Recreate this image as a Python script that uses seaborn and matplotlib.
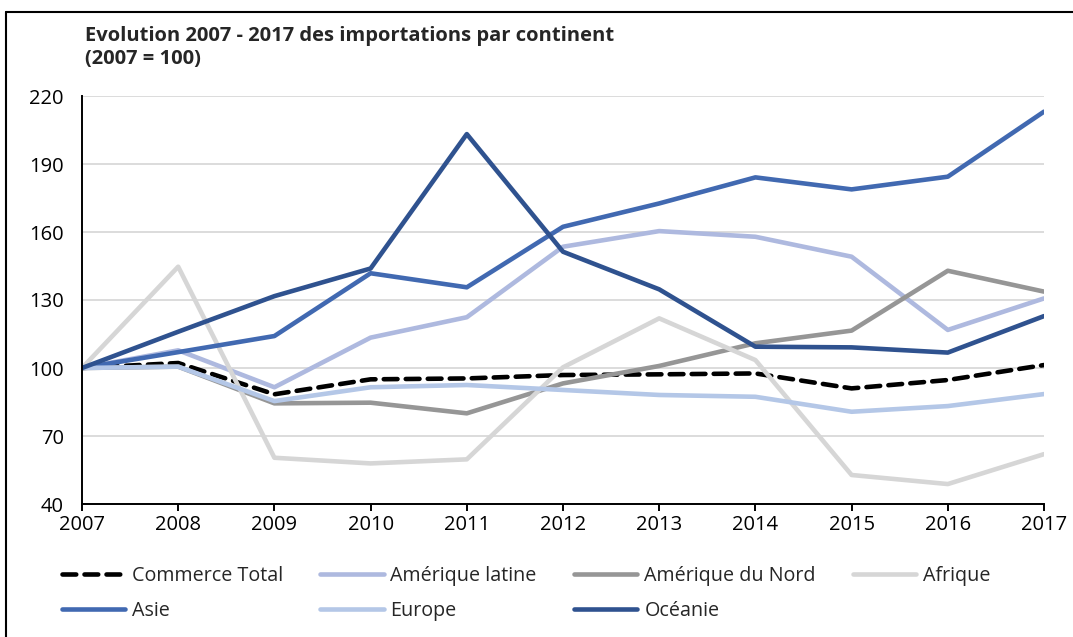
import matplotlib
matplotlib.use('Agg')
import matplotlib.pyplot as plt
import seaborn as sns
import numpy as np
import pandas as pd
from matplotlib.lines import Line2D

sns.set_style('white')
plt.rcParams['font.family'] = ['Open Sans', 'DejaVu Sans']

years = list(range(2007, 2018))

commerce_total = [100, 102.2, 88.4, 95.0, 95.4, 96.9, 97.2, 97.6, 91.0, 94.7, 101.3]
amerique_latine = [100, 107.8, 91.5, 113.4, 122.4, 153.5, 160.4, 157.9, 149.1, 116.8, 130.7]
amerique_nord = [100, 100.6, 84.4, 84.7, 80.0, 93.2, 100.9, 110.9, 116.5, 142.9, 133.7]
afrique = [100, 144.7, 60.4, 57.9, 59.7, 100.3, 121.9, 103.5, 52.8, 48.8, 62.0]
asie = [100, 107.0, 114.1, 141.8, 135.6, 162.3, 172.6, 184.1, 178.8, 184.4, 213.1]
europe = [100, 100.6, 85.4, 91.5, 92.5, 90.3, 88.1, 87.3, 80.7, 83.2, 88.5]
oceanie = [100, 116.0, 131.7, 143.9, 203.2, 151.3, 134.7, 109.4, 109.1, 106.8, 122.9]

series = [
    ('Commerce Total', commerce_total, '#000000'),
    ('Amérique latine', amerique_latine, '#AEB9DF'),
    ('Amérique du Nord', amerique_nord, '#969696'),
    ('Afrique', afrique, '#D6D6D6'),
    ('Asie', asie, '#4169B1'),
    ('Europe', europe, '#B4C7E7'),
    ('Océanie', oceanie, '#2F528F'),
]

fig = plt.figure(figsize=(10.73, 6.37), dpi=100)
ax = fig.add_axes([82/1073, 1-504/637, (1044-82)/1073, (504-96)/637])

for name, vals, col in series:
    df = pd.DataFrame({'year': years, 'value': vals})
    if name == 'Commerce Total':
        sns.lineplot(data=df, x='year', y='value', ax=ax, color=col, lw=3.3,
                     label=name, linestyle=(0, (3.0, 1.8)), dash_capstyle='round')
    else:
        sns.lineplot(data=df, x='year', y='value', ax=ax, color=col, lw=3.3,
                     label=name, solid_capstyle='round')

ax.set_xlim(2007, 2017)
ax.set_ylim(40, 220)
ax.set_xticks(years)
ax.set_yticks(range(40, 221, 30))
ax.set_xlabel('')
ax.set_ylabel('')
ax.grid(axis='y', color='#D9D9D9', lw=1.3)
ax.set_axisbelow(True)
for s in ['top', 'right']:
    ax.spines[s].set_visible(False)
for s in ['left', 'bottom']:
    ax.spines[s].set_color('black')
    ax.spines[s].set_linewidth(1.4)
ax.tick_params(axis='x', length=5, width=1.4, direction='out', pad=3,
               labelsize=14.5, colors='black', bottom=True)
ax.tick_params(axis='y', length=0, pad=13, labelsize=14.5, colors='black')

# legend, row-wise order
h, l = ax.get_legend_handles_labels()
ax.get_legend().remove()
order = [0, 4, 1, 5, 2, 6, 3]
fig.legend([h[i] for i in order], [l[i] for i in order], ncol=4,
           loc='upper left', bbox_to_anchor=(44/1073, 1-548/637), frameon=False,
           fontsize=14.2, handlelength=3.2, handletextpad=0.35,
           columnspacing=1.9, labelspacing=0.75)

fig.text(85/1073, 1-26/637, 'Evolution 2007 - 2017 des importations par continent\n(2007 = 100)',
         fontsize=14.5, fontweight='bold', va='top', ha='left', linespacing=1.2)

# frame (top and left edges visible)
fig.add_artist(Line2D([6/1073, 1], [1-12/637, 1-12/637], transform=fig.transFigure,
                      color='black', lw=1.5))
fig.add_artist(Line2D([6/1073, 6/1073], [0, 1-12/637], transform=fig.transFigure,
                      color='black', lw=1.5))

fig.savefig('out.png', dpi=100)
